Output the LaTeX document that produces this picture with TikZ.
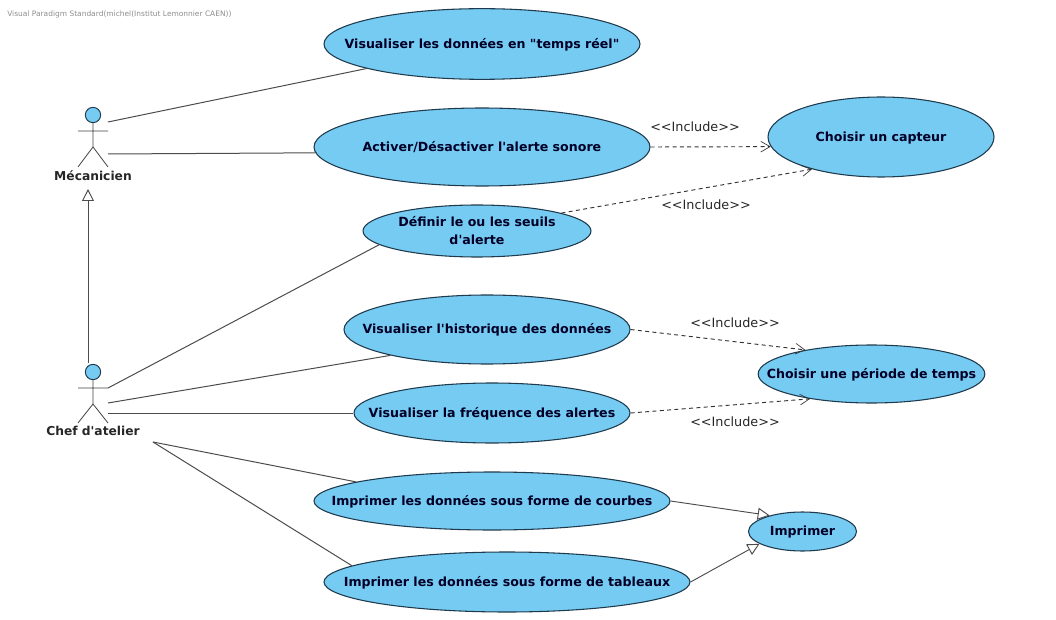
\documentclass[tikz,border=0pt]{standalone}
\usepackage{fontspec}
\setmainfont{DejaVu Sans}
\usetikzlibrary{arrows.meta,shapes.geometric}
\definecolor{uc}{HTML}{76CBF3}
\definecolor{edge}{HTML}{1E3A4C}
\newcommand{\ut}[1]{\raisebox{-0.58em}{\smash{\makebox[0pt]{\begin{tabular}[c]{@{}c@{}}#1\end{tabular}}}}}
\tikzset{
 x=0.75pt,y=-0.75pt,
 uc/.style={ellipse,draw=edge,fill=uc,line width=0.8pt,inner sep=0pt,font=\bfseries\fontsize{9.45pt}{13.5pt}\selectfont,text=black!85!blue},
 assoc/.style={draw=black!70,line width=0.75pt},
 incl/.style={draw=black!80,line width=0.7pt,dash pattern=on 3pt off 2.5pt,-{Straight Barb[length=7pt,width=8pt,line width=0.5pt]}},
 gen/.style={draw=black!70,line width=0.7pt,-{Triangle[open,length=9pt,width=9pt,fill=white]}},
 lab/.style={font=\fontsize{9.6pt}{11pt}\selectfont,text=black!85},
 actorname/.style={font=\bfseries\fontsize{9.2pt}{11pt}\selectfont,text=black!85},
 head/.style={circle,draw=edge,fill=uc,line width=0.7pt,minimum size=11.5pt,inner sep=0pt},
 limb/.style={draw=black!75,line width=0.6pt}
}
\begin{document}
\begin{tikzpicture}
\useasboundingbox (0,0) rectangle (1056,620);
\node[anchor=west,inner sep=0pt,text=black!45,font=\fontsize{5.6pt}{6pt}\selectfont] (vp) at (7,14) {Visual Paradigm Standard(michel(Institut Lemonnier CAEN))};

% use cases
\node[uc,minimum width=237pt,minimum height=53pt] (u1) at (482,44) {\ut{Visualiser les données en \textquotedbl temps réel\textquotedbl}};
\node[uc,minimum width=252pt,minimum height=58.5pt] (u2) at (482,147) {\ut{Activer/Désactiver l\textquotesingle alerte sonore}};
\node[uc,minimum width=169.5pt,minimum height=60pt] (c1) at (881,137) {\ut{Choisir un capteur}};
\node[uc,minimum width=171pt,minimum height=39pt] (u3) at (477,231) {\ut{Définir le ou les seuils\\d\textquotesingle alerte}};
\node[uc,minimum width=214.5pt,minimum height=51.75pt] (u4) at (487,329.5) {\ut{Visualiser l\textquotesingle historique des données}};
\node[uc,minimum width=170pt,minimum height=43.5pt] (c2) at (871.5,374) {\ut{Choisir une période de temps}};
\node[uc,minimum width=207pt,minimum height=45pt] (u5) at (492,413) {\ut{Visualiser la fréquence des alertes}};
\node[uc,minimum width=267pt,minimum height=43.5pt] (u6) at (492,501) {\ut{Imprimer les données sous forme de courbes}};
\node[uc,minimum width=274.5pt,minimum height=45pt] (u7) at (507,582) {\ut{Imprimer les données sous forme de tableaux}};
\node[uc,minimum width=81pt,minimum height=29.25pt] (c3) at (802.5,531.5) {\ut{Imprimer}};

% actors
\node[head] (h1) at (93,115) {};
\coordinate (hip1) at (93,147);
\coordinate (al1) at (78,131); \coordinate (ar1) at (108,131);
\coordinate (fl1) at (78,167); \coordinate (fr1) at (108,167);
\draw[limb] (h1) -- (hip1) (al1) -- (ar1) (fl1) -- (hip1) -- (fr1);
\node[actorname] (a1) at (93,176) {Mécanicien};

\node[head] (h2) at (93,372) {};
\coordinate (hip2) at (93,404);
\coordinate (al2) at (78,388); \coordinate (ar2) at (108,388);
\coordinate (fl2) at (78,423); \coordinate (fr2) at (108,423);
\draw[limb] (h2) -- (hip2) (al2) -- (ar2) (fl2) -- (hip2) -- (fr2);
\node[actorname] (a2) at (93,431) {Chef d\textquotesingle atelier};

% association ends
\coordinate (m1) at (108,122);
\coordinate (m2) at (108,154);
\coordinate (f1) at (108,388);
\coordinate (f2) at (108,403);
\coordinate (f3) at (108,413);
\coordinate (f4) at (153,442);
\coordinate (gh) at (88,363);
\coordinate (gt) at (88,189);

\draw[assoc] (m1) -- (u1.192.7);
\draw[assoc] (m2) -- (u2.182.4);
\draw[assoc] (f1) -- (u3.188);
\draw[assoc] (f2) -- (u4.195.5);
\draw[assoc] (f3) -- (u5.west);
\draw[assoc] (f4) -- (u6.172);
\draw[assoc] (f4) -- (u7.174);
\draw[gen] (gh) -- (gt);

% includes
\draw[incl] (u2.east) -- (c1.185);
\node[lab] (l1) at (695,127) {<{}<Include>{}>};
\draw[incl] (u3.12) -- (c1.205);
\node[lab] (l2) at (706,205) {<{}<Include>{}>};
\draw[incl] (u4.east) -- (c2.160.5);
\node[lab] (l3) at (735,323) {<{}<Include>{}>};
\draw[incl] (u5.east) -- (c2.202.5);
\node[lab] (l4) at (735,422) {<{}<Include>{}>};

% generalisations
\draw[gen] (u6.east) -- (c3.154);
\draw[gen] (u7.east) -- (c3.196);
\end{tikzpicture}
\end{document}
